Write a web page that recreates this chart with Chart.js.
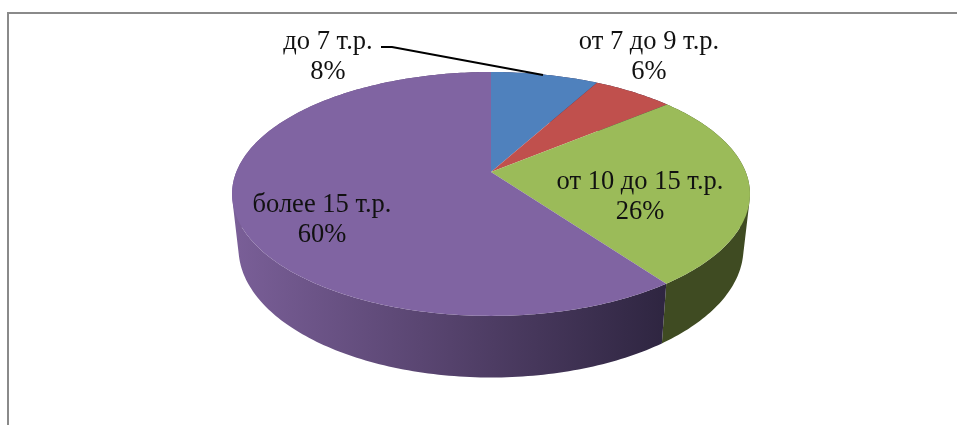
<!DOCTYPE html>
<html>
<head>
<meta charset="utf-8">
<script src="https://cdn.jsdelivr.net/npm/chart.js@4/dist/chart.umd.js"></script>
<style>
html, body { margin: 0; padding: 0; background: #fff; }
#wrap { position: relative; width: 957px; height: 425px; overflow: hidden; }
#frame { position: absolute; left: 7px; top: 12px; width: 1000px; height: 500px; border: 2px solid #8a8a8a; box-sizing: border-box; }
#graph1 { position: absolute; left: 0; top: 0; }
</style>
</head>
<body>
<div id="wrap">
  <div id="frame"></div>
  <canvas id="graph1" width="957" height="425"></canvas>
</div>
<script>
var categories = ["до 7 т.р.", "от 7 до 9 т.р.", "от 10 до 15 т.р.", "более 15 т.р."];
var shares = [8, 6, 26, 60];
var sliceColors = ["#4f81bd", "#c0504d", "#9bbb59", "#8064a2"];

// pie lying on its back, seen from above and slightly in front
var persp = 0.18;
var topFace = { sx: 1.481, sy: 0.686, dy: 0 };
var bottomFace = { sx: 1.444, sy: 0.727, dy: 53 };

function project(arc, face, angle) {
    var u = Math.cos(angle), v = Math.sin(angle);
    var w = 1 - persp * v;
    return {
        x: arc.x + arc.outerRadius * face.sx * u / w,
        y: arc.y + face.dy + arc.outerRadius * face.sy * v / w
    };
}

function sideFill(ctx, index) {
    if (index === 2) return "#3f4b22";
    var g = ctx.createLinearGradient(232, 0, 668, 0);
    g.addColorStop(0, "#7a5f98");
    g.addColorStop(0.5, "#55426c");
    g.addColorStop(1, "#2e2540");
    return g;
}

// signed area, so every rim quad can wind the same way in one path
function quadArea(p) {
    var sum = 0;
    for (var i = 0; i < 4; i++) {
        var n = p[(i + 1) % 4];
        sum += p[i].x * n.y - n.x * p[i].y;
    }
    return sum;
}

var pie3d = {
    id: "pie3d",
    beforeDatasetsDraw: function (chart) {
        var ctx = chart.ctx;
        var arcs = chart.getDatasetMeta(0).data;
        var step = Math.PI / 180;
        ctx.save();
        // rim first, the top face then covers whatever is behind it
        arcs.forEach(function (arc, i) {
            ctx.fillStyle = sideFill(ctx, i);
            ctx.beginPath();
            for (var a = arc.startAngle; a < arc.endAngle; a += step) {
                var b = Math.min(a + step, arc.endAngle);
                var p = [project(arc, topFace, a), project(arc, topFace, b), project(arc, bottomFace, b), project(arc, bottomFace, a)];
                if (quadArea(p) < 0) p.reverse();
                ctx.moveTo(p[0].x, p[0].y);
                ctx.lineTo(p[1].x, p[1].y);
                ctx.lineTo(p[2].x, p[2].y);
                ctx.lineTo(p[3].x, p[3].y);
                ctx.closePath();
            }
            ctx.fill();
        });
        arcs.forEach(function (arc) {
            ctx.fillStyle = arc.options.backgroundColor;
            ctx.beginPath();
            ctx.moveTo(arc.x, arc.y);
            for (var a = arc.startAngle; a < arc.endAngle; a += step) {
                var p = project(arc, topFace, a);
                ctx.lineTo(p.x, p.y);
            }
            var e = project(arc, topFace, arc.endAngle);
            ctx.lineTo(e.x, e.y);
            ctx.closePath();
            ctx.fill();
        });
        ctx.restore();
        return false;
    },
    afterDraw: function (chart) {
        var ctx = chart.ctx;
        // label centres: first line baseline, second follows
        var spots = [[328, 49], [649, 49], [640, 189], [322, 212]];
        ctx.save();
        ctx.fillStyle = "#111";
        ctx.font = '26.5px "Liberation Serif"';
        ctx.textAlign = "center";
        ctx.textBaseline = "alphabetic";
        categories.forEach(function (name, i) {
            ctx.fillText(name, spots[i][0], spots[i][1]);
            ctx.fillText(shares[i] + "%", spots[i][0], spots[i][1] + 30);
        });
        // leader line for the smallest label
        ctx.strokeStyle = "#000";
        ctx.lineWidth = 2;
        ctx.beginPath();
        ctx.moveTo(381, 47);
        ctx.lineTo(392, 47);
        ctx.lineTo(543, 75);
        ctx.stroke();
        ctx.restore();
    }
};

new Chart(document.getElementById("graph1"), {
    type: "pie",
    data: {
        labels: categories,
        datasets: [
            {
                backgroundColor: sliceColors,
                borderWidth: 0,
                data: shares
            }
        ]
    },
    options: {
        responsive: false,
        animation: false,
        layout: { padding: { left: 25, top: 0, bottom: 81, right: 0 } },
        plugins: { legend: { display: false }, tooltip: { enabled: false } }
    },
    plugins: [pie3d]
});
</script>
</body>
</html>
